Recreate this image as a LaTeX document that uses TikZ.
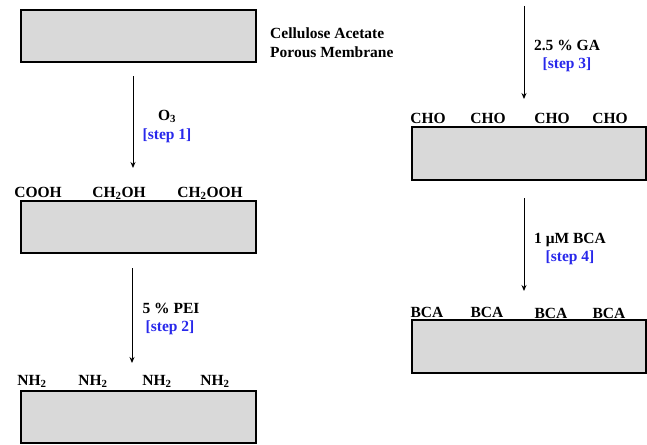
\documentclass[tikz,border=0pt]{standalone}
\usepackage{fontspec}
\setmainfont{Liberation Serif}
\usetikzlibrary{arrows.meta}
\definecolor{memgray}{RGB}{217,217,217}
\definecolor{stepblue}{RGB}{40,40,235}
\begin{document}
\begin{tikzpicture}[x=1pt,y=-1pt,
  membrane/.style={draw=black,fill=memgray,line width=2.2pt,rectangle,inner sep=0pt},
  chem/.style={font=\fontsize{15.5}{19}\selectfont\bfseries,anchor=base,inner sep=0pt},
  steplbl/.style={chem,text=stepblue},
  flow/.style={line width=0.9pt,-{Stealth[length=6pt,width=5pt]}}]
\useasboundingbox (0,0) rectangle (647,444);

% membranes
\node[membrane,minimum width=235pt,minimum height=52pt] (m1) at (138.5,36) {};
\node[membrane,minimum width=235pt,minimum height=52pt] (m2) at (138.5,227) {};
\node[membrane,minimum width=235pt,minimum height=52pt] (m3) at (138.5,417) {};
\node[membrane,minimum width=234pt,minimum height=53pt] (m4) at (529,153.5) {};
\node[membrane,minimum width=234pt,minimum height=53pt] (m5) at (529,346.5) {};

% title
\node[chem,anchor=base west] (t1) at (270,38) {Cellulose Acetate};
\node[chem,anchor=base west] (t2) at (270,57) {Porous Membrane};

% step 1
\coordinate (a1s) at (133,76);
\coordinate (a1e) at (133,168);
\draw[flow] (a1s) -- (a1e);
\node[chem] (r1) at (167,120) {O\textsubscript{3}};
\node[steplbl] (s1) at (167,139) {[step 1]};
\node[chem] (g1a) at (38,197) {COOH};
\node[chem] (g1b) at (119,197) {CH\textsubscript{2}OH};
\node[chem] (g1c) at (210,197) {CH\textsubscript{2}OOH};

% step 2
\coordinate (a2s) at (132,268);
\coordinate (a2e) at (132,363);
\draw[flow] (a2s) -- (a2e);
\node[chem] (r2) at (171,313) {5 \% PEI};
\node[steplbl] (s2) at (170,331) {[step 2]};
\node[chem] (g2a) at (32,385) {NH\textsubscript{2}};
\node[chem] (g2b) at (93,385) {NH\textsubscript{2}};
\node[chem] (g2c) at (157,385) {NH\textsubscript{2}};
\node[chem] (g2d) at (215,385) {NH\textsubscript{2}};

% step 3
\coordinate (a3s) at (524,6);
\coordinate (a3e) at (524,99);
\draw[flow] (a3s) -- (a3e);
\node[chem] (r3) at (567,50) {2.5 \% GA};
\node[steplbl] (s3) at (567,68) {[step 3]};
\node[chem] (g3a) at (428,123) {CHO};
\node[chem] (g3b) at (488,123) {CHO};
\node[chem] (g3c) at (552,123) {CHO};
\node[chem] (g3d) at (610,123) {CHO};

% step 4
\coordinate (a4s) at (524,198);
\coordinate (a4e) at (524,291);
\draw[flow] (a4s) -- (a4e);
\node[chem] (r4) at (570,243) {1 μM BCA};
\node[steplbl] (s4) at (570,261) {[step 4]};
\node[chem] (g4a) at (427,317) {BCA};
\node[chem] (g4b) at (487,317) {BCA};
\node[chem] (g4c) at (551,318) {BCA};
\node[chem] (g4d) at (609,318) {BCA};
\end{tikzpicture}
\end{document}
